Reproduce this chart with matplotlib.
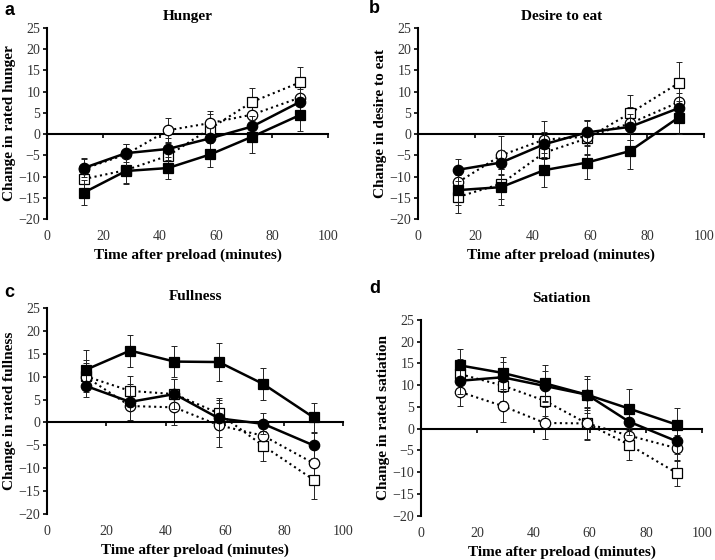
import matplotlib
matplotlib.use("Agg")
import matplotlib.pyplot as plt

# time points (minutes after preload)
time_ac = [13, 28, 43, 58, 73, 90]
time_bd = [14, 29, 44, 59, 74, 91]

panel_letters = ["a", "b", "c", "d"]
titles = ["Hunger", "Desire to eat", "Fullness", "Satiation"]
ylabels = ["Change in rated hunger", "Change in desire to eat",
           "Change in rated fullness", "Change in rated satiation"]

# series: filled square (solid), filled circle (solid), open square (dotted), open circle (dotted)
hunger_fsq = [-13.8, -8.7, -8.0, -4.8, -0.6, 4.5]
hunger_fci = [-8.0, -4.5, -3.5, -1.0, 1.8, 7.6]
hunger_osq = [-10.6, -8.5, -5.1, 1.3, 7.6, 12.2]
hunger_oci = [-8.2, -4.8, 0.9, 2.6, 4.6, 8.6]
hunger_err = [[2.9, 3.0, 2.7, 3.0, 3.9, 3.8],
              [2.2, 2.1, 2.5, 2.5, 2.5, 3.0],
              [2.5, 3.0, 3.0, 3.5, 3.2, 3.5],
              [2.5, 2.5, 2.8, 2.8, 3.0, 3.0]]

desire_fsq = [-13.2, -12.5, -8.5, -6.7, -4.0, 3.9]
desire_fci = [-8.4, -6.7, -2.4, 0.4, 1.7, 6.1]
desire_osq = [-14.8, -11.7, -4.4, -1.0, 4.9, 12.0]
desire_oci = [-11.3, -5.0, -1.3, -0.6, 2.5, 7.5]
desire_err = [[3.5, 4.2, 4.0, 4.0, 4.2, 3.9],
              [2.6, 3.0, 3.0, 3.0, 3.0, 3.5],
              [3.7, 3.5, 4.0, 4.0, 4.4, 4.9],
              [3.0, 4.5, 4.5, 4.0, 4.0, 4.0]]

fullness_fsq = [11.5, 15.7, 13.3, 13.2, 8.4, 1.1]
fullness_fci = [8.0, 4.5, 6.2, 0.9, -0.3, -5.0]
fullness_osq = [10.1, 6.9, 6.2, 2.0, -5.1, -12.5]
fullness_oci = [10.0, 3.6, 3.3, -0.6, -2.9, -8.9]
fullness_err = [[4.3, 3.5, 3.3, 4.1, 3.4, 3.1],
                [2.4, 4.0, 3.3, 4.0, 2.3, 2.8],
                [3.5, 3.2, 3.3, 3.3, 3.3, 4.2],
                [3.0, 3.4, 3.9, 4.8, 3.0, 3.5]]

satiation_fsq = [14.5, 12.8, 10.4, 7.8, 4.6, 0.9]
satiation_fci = [11.0, 11.8, 9.8, 7.8, 1.6, -2.9]
satiation_osq = [12.5, 9.9, 6.4, 1.2, -3.7, -10.2]
satiation_oci = [8.4, 5.2, 1.3, 1.2, -1.6, -4.5]
satiation_err = [[3.8, 3.7, 4.2, 4.2, 4.5, 3.9],
                 [3.0, 3.5, 3.5, 3.5, 3.0, 3.0],
                 [3.5, 3.5, 3.5, 3.5, 3.4, 3.0],
                 [3.1, 3.6, 3.6, 3.7, 3.0, 3.0]]

panels = [
    (time_ac, [hunger_fsq, hunger_fci, hunger_osq, hunger_oci], hunger_err),
    (time_bd, [desire_fsq, desire_fci, desire_osq, desire_oci], desire_err),
    (time_ac, [fullness_fsq, fullness_fci, fullness_osq, fullness_oci], fullness_err),
    (time_bd, [satiation_fsq, satiation_fci, satiation_osq, satiation_oci], satiation_err),
]

# axes rectangles [left, bottom, width, height] in figure fractions
rects = [[0.066, 0.609, 0.393, 0.341],
         [0.585, 0.609, 0.400, 0.341],
         [0.066, 0.082, 0.414, 0.368],
         [0.589, 0.079, 0.393, 0.350]]
title_pad = [6, 6, 6, 13]
letter_pos = [(0.006, 0.982), (0.516, 0.985), (0.006, 0.478), (0.516, 0.484)]

styles = [dict(marker="s", ls="-", mfc="black", lw=1.8, ms=7.5, z=4),
          dict(marker="o", ls="-", mfc="black", lw=1.8, ms=7.5, z=4),
          dict(marker="s", ls=":", mfc="white", lw=1.5, ms=7.5, z=3),
          dict(marker="o", ls=":", mfc="white", lw=1.5, ms=7.5, z=3)]
draw_order = [2, 3, 1, 0]

serif = "Liberation Serif"

fig = plt.figure(figsize=(7.15, 5.6), dpi=100)

for i, (t, series, errs) in enumerate(panels):
    ax = fig.add_axes(rects[i])
    for k in draw_order:
        st = styles[k]
        ax.errorbar(t, series[k], yerr=errs[k], fmt="none", ecolor="#222222",
                    elinewidth=0.7, capsize=2, capthick=0.7, zorder=st["z"] - 1)
        ax.plot(t, series[k], marker=st["marker"], ls=st["ls"], color="black",
                lw=st["lw"], ms=st["ms"], mfc=st["mfc"], mec="black", mew=0.9,
                zorder=st["z"])

    ax.set_xlim(0, 100)
    ax.set_ylim(-20, 25)
    ax.set_yticks(range(-20, 30, 5))
    ax.set_xticks(range(0, 120, 20))
    ax.spines["top"].set_visible(False)
    ax.spines["right"].set_visible(False)
    ax.spines["bottom"].set_position(("data", 0))
    ax.spines["bottom"].set_linewidth(1.5)
    ax.spines["left"].set_linewidth(1.5)
    ax.tick_params(axis="x", labelbottom=False, direction="out", length=3, width=1.2)
    ax.tick_params(axis="y", direction="out", length=3, width=1.2,
                   labelsize=10, labelcolor="#333333", pad=2)
    for lab in ax.get_yticklabels():
        lab.set_fontfamily(serif)

    sec = ax.secondary_xaxis("bottom")
    sec.spines["bottom"].set_visible(False)
    sec.set_xticks(range(0, 120, 20))
    sec.tick_params(length=0, pad=8, labelsize=10, labelcolor="#333333")
    for lab in sec.get_xticklabels():
        lab.set_fontfamily(serif)
    sec.set_xlabel("Time after preload (minutes)", fontfamily=serif,
                   fontweight="bold", fontsize=11, labelpad=4)

    ax.set_ylabel(ylabels[i], fontfamily=serif, fontweight="bold", fontsize=11, labelpad=2)
    ax.set_title(titles[i], fontfamily=serif, fontweight="bold", fontsize=11, pad=title_pad[i])
    fig.text(letter_pos[i][0], letter_pos[i][1], panel_letters[i],
             fontfamily="Liberation Sans", fontweight="bold", fontsize=13,
             va="center", ha="left")

fig.savefig("out.png", dpi=100)
